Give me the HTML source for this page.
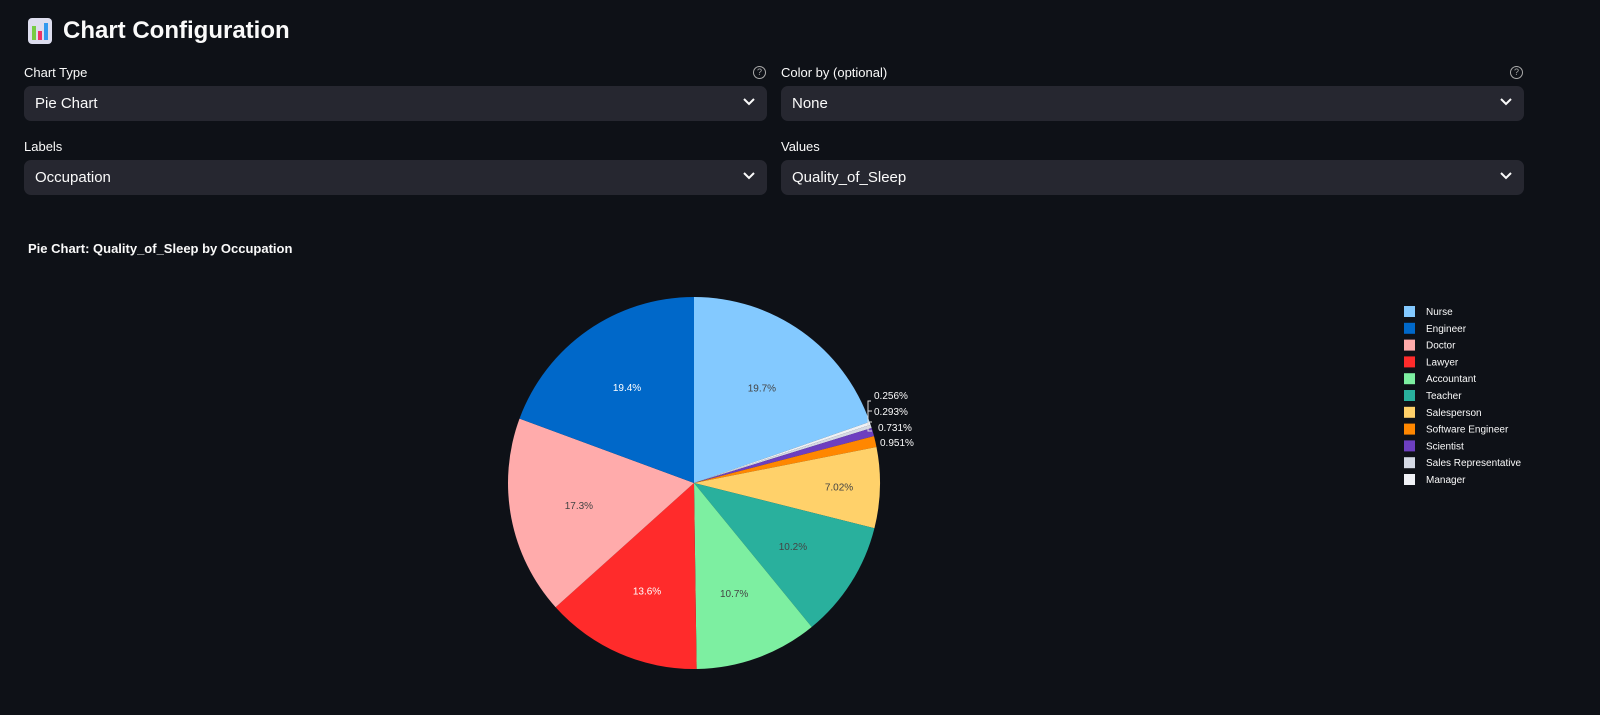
<!DOCTYPE html>
<html><head><meta charset="utf-8"><style>
body{margin:0;width:1600px;height:715px;background:#0e1117;font-family:"Liberation Sans",sans-serif;color:#fafafa;overflow:hidden;position:relative}
.t{position:absolute}
.lbl{position:absolute;font-size:13px;color:#fafafa}
.sel{position:absolute;height:35px;background:#262730;border-radius:7px;font-size:15px;line-height:35px;padding-left:11px;box-sizing:border-box}
.sel svg{position:absolute;right:12px;top:12px}
.q{position:absolute;width:11px;height:11px;border:1.3px solid #aaa;border-radius:50%;font-size:9px;line-height:11px;text-align:center;color:#aaa}
</style></head><body>
<div class="t" style="left:28px;top:18px;width:24px;height:26px;background:#dde;border-radius:4px">
<div style="position:absolute;left:4px;top:8px;width:4px;height:14px;background:#7c4"></div>
<div style="position:absolute;left:10px;top:13px;width:4px;height:9px;background:#e36"></div>
<div style="position:absolute;left:16px;top:5px;width:4px;height:17px;background:#39e"></div></div>
<div class="t" style="left:63px;top:17px;font-size:24px;font-weight:bold">Chart Configuration</div>
<div class="lbl" style="left:24px;top:65px">Chart Type</div>
<div class="q" style="left:753px;top:66px">?</div>
<div class="lbl" style="left:781px;top:65px">Color by (optional)</div>
<div class="q" style="left:1510px;top:66px">?</div>
<div class="sel" style="left:24px;top:86px;width:743px">Pie Chart<svg width="12" height="8"><path d="M1 1l5 5 5-5" stroke="#fafafa" stroke-width="2" fill="none"/></svg></div>
<div class="sel" style="left:781px;top:86px;width:743px">None<svg width="12" height="8"><path d="M1 1l5 5 5-5" stroke="#fafafa" stroke-width="2" fill="none"/></svg></div>
<div class="lbl" style="left:24px;top:139px">Labels</div>
<div class="lbl" style="left:781px;top:139px">Values</div>
<div class="sel" style="left:24px;top:160px;width:743px">Occupation<svg width="12" height="8"><path d="M1 1l5 5 5-5" stroke="#fafafa" stroke-width="2" fill="none"/></svg></div>
<div class="sel" style="left:781px;top:160px;width:743px">Quality_of_Sleep<svg width="12" height="8"><path d="M1 1l5 5 5-5" stroke="#fafafa" stroke-width="2" fill="none"/></svg></div>
<div class="t" style="left:28px;top:241px;font-size:13px;font-weight:bold">Pie Chart: Quality_of_Sleep by Occupation</div>
<svg id="s" class="t" style="left:0;top:0" width="1600" height="715" font-family="Liberation Sans, sans-serif" font-size="10"></svg>
<script>
var d=[["Nurse",19.7,"#83c9ff",1],["Manager",.256,"#f0f2f6",0],["Sales Representative",.293,"#d5dae5",0],["Scientist",.731,"#6d3fc0",0],["Software Engineer",.951,"#ff8700",0],["Salesperson",7.02,"#ffd16a",1],["Teacher",10.2,"#29b09d",1],["Accountant",10.7,"#7defa1",1],["Lawyer",13.6,"#ff2b2b",2],["Doctor",17.3,"#ffabab",1],["Engineer",19.4,"#0068c9",2]];
var cx=694,cy=483,r=186,tot=0;d.forEach(e=>tot+=e[1]);
var h="",a=0;
function P(an,rr){return [cx+rr*Math.sin(an),cy-rr*Math.cos(an)];}
d.forEach(e=>{var a2=a+e[1]/tot*2*Math.PI,p1=P(a,r),p2=P(a2,r);
h+='<path d="M'+cx+','+cy+'L'+p1+'A'+r+','+r+' 0 '+(a2-a>Math.PI?1:0)+' 1 '+p2+'Z" fill="'+e[2]+'" stroke="#0e1117" stroke-width="0"/>';
if(e[3]){var m=P((a+a2)/2,e[1]<8?0.78*r:0.63*r);h+='<text x="'+m[0]+'" y="'+(m[1]+4)+'" text-anchor="middle" fill="'+(e[3]==2?'#fff':'#444')+'">'+e[1]+'%</text>';}
a=a2;});
h+='<path d="M871,401H868V422H872M868,411H872M868,418V431H872" stroke="#ddd" fill="none"/>';
[["0.256%",874,399],["0.293%",874,415],["0.731%",878,431],["0.951%",880,446]].forEach(t=>h+='<text x="'+t[1]+'" y="'+t[2]+'" fill="#fafafa">'+t[0]+'</text>');
var order=[0,10,9,8,7,6,5,4,3,2,1];
order.forEach((k,i)=>{var y=311+i*16.8;h+='<rect x="1404" y="'+(y-5)+'" width="11" height="11" fill="'+d[k][2]+'"/><text x="1426" y="'+(y+4)+'" fill="#fafafa">'+d[k][0]+'</text>';});
document.getElementById('s').innerHTML=h;
</script>
</body></html>
